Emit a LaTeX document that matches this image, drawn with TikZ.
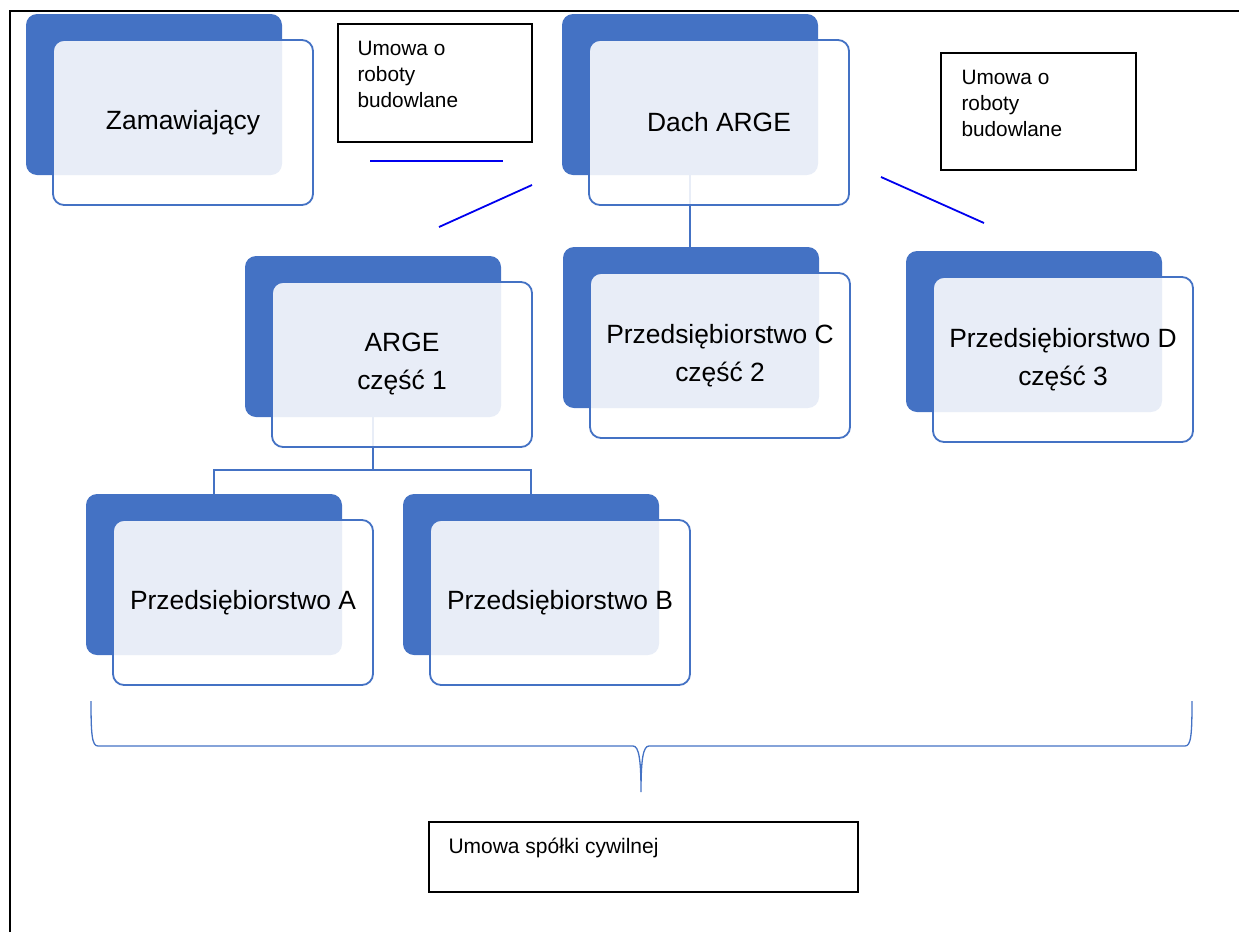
\documentclass[tikz,border=0pt]{standalone}
\usepackage{fontspec}
\setmainfont{Liberation Sans}
\definecolor{accent}{HTML}{4472C4}
\definecolor{lineblue}{HTML}{0000EE}
\pgfdeclarelayer{bg}
\pgfsetlayers{bg,main}
\tikzset{
  backbox/.style={fill=accent, rounded corners=11pt, minimum width=256pt, minimum height=161pt, inner sep=0pt, outer sep=0pt, anchor=north west},
  frontbox/.style={draw=accent, line width=1.8pt, fill=white, fill opacity=0.88, text opacity=1, rounded corners=11pt, minimum width=260pt, minimum height=165pt, inner sep=0pt, outer sep=0pt, align=center, anchor=north west, font=\fontsize{26.4}{38}\selectfont},
  conn/.style={draw=accent, line width=2pt},
  cline/.style={draw=lineblue, line width=1.8pt},
  contract/.style={draw=black, line width=2pt, inner sep=0pt, outer sep=0pt, anchor=north west},
  ctext/.style={inner sep=0pt, outer sep=0pt, anchor=north west, align=left, font=\fontsize{20.8}{25.8}\selectfont},
  framestyle/.style={draw=black, line width=2pt},
  bracestyle/.style={draw=accent, line width=1.3pt}
}
\newcommand\orgunit[4]{%
  \node[backbox] (#1B) at (#2,#3) {};
  \node[frontbox] (#1) at ([shift={(27,26)}]#1B.north west) {#4};
}
\begin{document}
\begin{tikzpicture}[x=1pt,y=-1pt]
\useasboundingbox (0,0) rectangle (1239,932);
% frame
\coordinate (fBL) at (9.5,932);
\coordinate (fTL) at (9.5,11);
\coordinate (fTR) at (1239,11);
\draw[framestyle] (fBL) -- (fTL) -- (fTR);

% units
\orgunit{zam}{26}{14}{Zamawiający}
\orgunit{dach}{562}{14}{Dach ARGE}
\orgunit{arge}{245}{256}{ARGE\\część 1}
\orgunit{c}{563}{247}{Przedsiębiorstwo C\\część 2}
\orgunit{d}{906}{251}{Przedsiębiorstwo D\\część 3}
\orgunit{a}{86}{494}{Przedsiębiorstwo A}
\orgunit{b}{403}{494}{Przedsiębiorstwo B}

% connectors (behind the boxes)
\begin{pgfonlayer}{bg}
  \draw[conn] (dachB.south) -- (dachB.south |- cB.north);
  \coordinate (fork) at ([yshift=24pt]aB.north);
  \draw[conn] (aB.north) -- (fork) -| (bB.north);
  \draw[conn] (argeB.south) -- (argeB.south |- fork);
\end{pgfonlayer}

% contract boxes
\node[contract, minimum width=194pt, minimum height=118pt] (u1) at (338,24) {};
\node[ctext] (u1t) at (357.5,41.5) {Umowa o\\roboty\\budowlane};
\node[contract, minimum width=195pt, minimum height=117pt] (u2) at (941,53) {};
\node[ctext] (u2t) at (961.5,70.5) {Umowa o\\roboty\\budowlane};
\node[contract, minimum width=429pt, minimum height=70pt] (u3) at (429,822) {};
\node[ctext, font=\fontsize{21}{26}\selectfont] (u3t) at (448.5,838) {Umowa spółki cywilnej};

% contract lines
\coordinate (l1a) at (370,161);
\coordinate (l1b) at (503,161);
\coordinate (l2a) at (439,227);
\coordinate (l2b) at (532,185);
\coordinate (l3a) at (881,177);
\coordinate (l3b) at (984,223);
\draw[cline] (l1a) -- (l1b);
\draw[cline] (l2a) -- (l2b);
\draw[cline] (l3a) -- (l3b);

% brace
\coordinate (brL) at (91,701);
\coordinate (brR) at (1192,701);
\coordinate (brTip) at (641,792);
\draw[bracestyle] (brL) .. controls (91,735) and (92,746) .. (98,746) -- (633,746)
  .. controls (639,746) and (641,760) .. (brTip)
  .. controls (641,760) and (643,746) .. (649,746) -- (1185,746)
  .. controls (1191,746) and (1192,735) .. (brR);
\end{tikzpicture}
\end{document}
